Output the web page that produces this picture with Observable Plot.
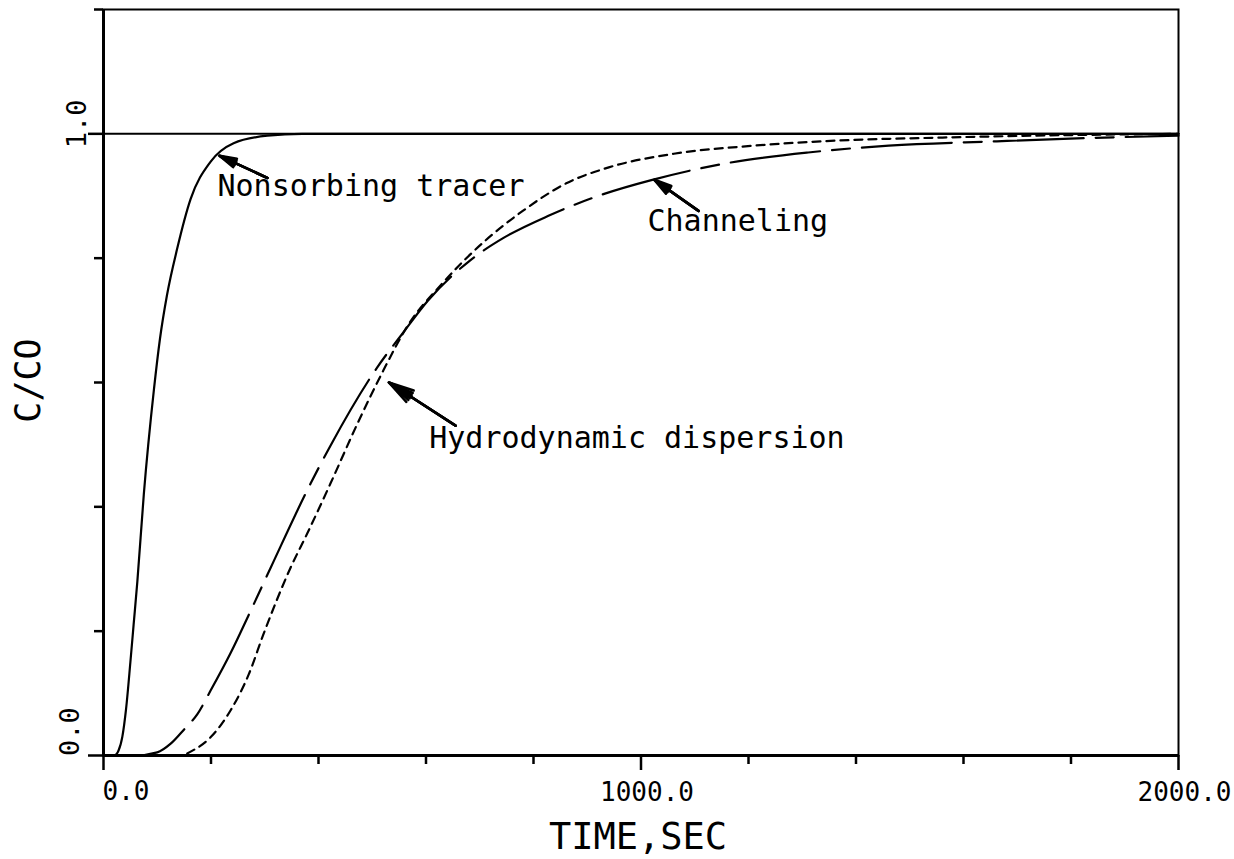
<!DOCTYPE html>
<html>
<head>
<meta charset="utf-8">
<script src="https://cdn.jsdelivr.net/npm/d3@7"></script>
<script src="https://cdn.jsdelivr.net/npm/@observablehq/plot@0.6"></script>
<style>
  html, body { margin: 0; padding: 0; background: #fff; }
</style>
</head>
<body>
<div id="chart"></div>
<script>
// ---- Data ----
// Nonsorbing tracer (solid)
const nonsorbT = [0, 20, 28, 35, 42, 50, 56, 63, 75, 94, 105, 118, 137, 162, 199, 242, 305, 370, 450, 1000, 2000];
const nonsorbC = [0, 0, 0.008, 0.03, 0.075, 0.15, 0.21, 0.28, 0.42, 0.59, 0.67, 0.74, 0.815, 0.895, 0.955, 0.985, 0.997, 1, 1, 1, 1];

// Channeling (long dash)
const channelT = [0, 60, 100, 125, 150, 175, 199, 236, 275, 311, 385, 422, 509, 560, 603, 680, 745, 830, 930, 1021, 1161, 1311, 1461, 1662, 1862, 2000];
const channelC = [0, 0, 0.005, 0.019, 0.042, 0.067, 0.104, 0.164, 0.235, 0.302, 0.437, 0.498, 0.624, 0.683, 0.731, 0.795, 0.833, 0.869, 0.903, 0.926, 0.953, 0.970, 0.981, 0.988, 0.994, 0.997];

// Hydrodynamic dispersion (short dash)
const hydroT = [0, 140, 170, 200, 236, 270, 298, 348, 379, 422, 472, 521, 565, 630, 710, 780, 860, 940, 1061, 1211, 1361, 1561, 1800, 2000];
const hydroC = [0, 0, 0.01, 0.03, 0.072, 0.13, 0.196, 0.302, 0.357, 0.437, 0.533, 0.62, 0.69, 0.759, 0.828, 0.876, 0.92, 0.946, 0.968, 0.981, 0.989, 0.994, 0.998, 1.0];

// Ticks
const xMajorTicks = [0, 1000, 2000];
const xMinorTicks = [200, 400, 600, 800, 1200, 1400, 1600, 1800];
const yMajorTicks = [0, 1];
const yMinorTicks = [0.2, 0.4, 0.6, 0.8, 1.2];

// Annotations
const annoText  = ["Nonsorbing tracer", "Channeling", "Hydrodynamic dispersion"];
const annoT     = [212, 1012, 606];
const annoC     = [0.900, 0.844, 0.495];
const arrowFromT = [305, 1107, 655];
const arrowFromC = [0.929, 0.876, 0.5305];
const arrowToT   = [216, 1025, 531];
const arrowToC   = [0.9646, 0.926, 0.600];

const xLabel = "TIME,SEC";
const yLabel = "C/CO";

// ---- Build tables ----
const rows = (T, C) => T.map((t, i) => ({t, c: C[i]}));
const nonsorb = rows(nonsorbT, nonsorbC);
const channel = rows(channelT, channelC);
const hydro = rows(hydroT, hydroC);
const annos = annoText.map((text, i) => ({text, t: annoT[i], c: annoC[i]}));
const arrows = arrowFromT.map((t, i) => ({t1: t, c1: arrowFromC[i], t2: arrowToT[i], c2: arrowToC[i]}));

const font = "DejaVu Sans Mono";
const fmt = d => d.toFixed(1);
const arrowOpts = {x1: "t1", y1: "c1", x2: "t2", y2: "c2", stroke: "black", strokeWidth: 2.6, headLength: 15};

const chart = Plot.plot({
  width: 1234,
  height: 859,
  marginLeft: 103,
  marginRight: 56,
  marginTop: 9,
  marginBottom: 104,
  style: {fontFamily: font, background: "white", color: "black", overflow: "visible"},
  x: {domain: [0, 2000]},
  y: {domain: [0, 1.2]},
  marks: [
    // Frame and thick axes lines
    Plot.frame({stroke: "black", strokeWidth: 2}),
    Plot.ruleX([0], {stroke: "black", strokeWidth: 3}),
    Plot.ruleY([0], {stroke: "black", strokeWidth: 3}),
    Plot.ruleY([1], {stroke: "black", strokeWidth: 2}),

    // Ticks
    Plot.axisX(xMinorTicks, {tickSize: 9, strokeWidth: 2.5, tickFormat: () => "", label: null}),
    Plot.axisX(xMajorTicks, {tickSize: 15, strokeWidth: 2.5, tickFormat: () => "", label: null}),
    Plot.axisY(yMinorTicks, {tickSize: 9, strokeWidth: 2.5, tickFormat: () => "", label: null}),
    Plot.axisY(yMajorTicks, {tickSize: 15, strokeWidth: 2.5, tickFormat: () => "", label: null}),

    // Tick labels
    Plot.axisX([xMajorTicks[0]], {tickSize: 0, tickPadding: 26, textAnchor: "start", dx: -1, tickFormat: fmt, fontSize: 26, label: null}),
    Plot.axisX(xMajorTicks.slice(1), {tickSize: 0, tickPadding: 27, dx: 6, tickFormat: fmt, fontSize: 26, label: null}),
    Plot.text([yMajorTicks[0]], {y: d => d, text: fmt, frameAnchor: "left", rotate: -90, textAnchor: "middle", lineAnchor: "bottom", dx: -25, dy: -24, fontSize: 27}),
    Plot.text([yMajorTicks[1]], {y: d => d, text: fmt, frameAnchor: "left", rotate: -90, textAnchor: "middle", lineAnchor: "bottom", dx: -18, dy: -10, fontSize: 27}),

    // Axis titles
    Plot.text([xLabel], {text: d => d, frameAnchor: "bottom", lineAnchor: "bottom", dy: 93, dx: -3, fontSize: 37}),
    Plot.text([yLabel], {text: d => d, frameAnchor: "left", rotate: -90, lineAnchor: "middle", textAnchor: "middle", dx: -75, dy: -2, fontSize: 35}),

    // Curves
    Plot.line(nonsorb, {x: "t", y: "c", stroke: "black", strokeWidth: 2.2, curve: "monotone-x"}),
    Plot.line(channel, {x: "t", y: "c", stroke: "black", strokeWidth: 2.2, curve: "monotone-x", strokeDasharray: "90,12,18,12"}),
    Plot.line(hydro, {x: "t", y: "c", stroke: "black", strokeWidth: 2.2, curve: "monotone-x", strokeDasharray: "8,6"}),

    // Annotations (overlaid heads give a filled look)
    Plot.arrow(arrows, {...arrowOpts, headAngle: 30}),
    Plot.arrow(arrows, {...arrowOpts, headAngle: 18}),
    Plot.arrow(arrows, {...arrowOpts, headAngle: 8}),
    Plot.text(annos, {x: "t", y: "c", text: "text", textAnchor: "start", lineAnchor: "bottom", fontSize: 30})
  ]
});

document.getElementById("chart").appendChild(chart);
</script>
</body>
</html>
